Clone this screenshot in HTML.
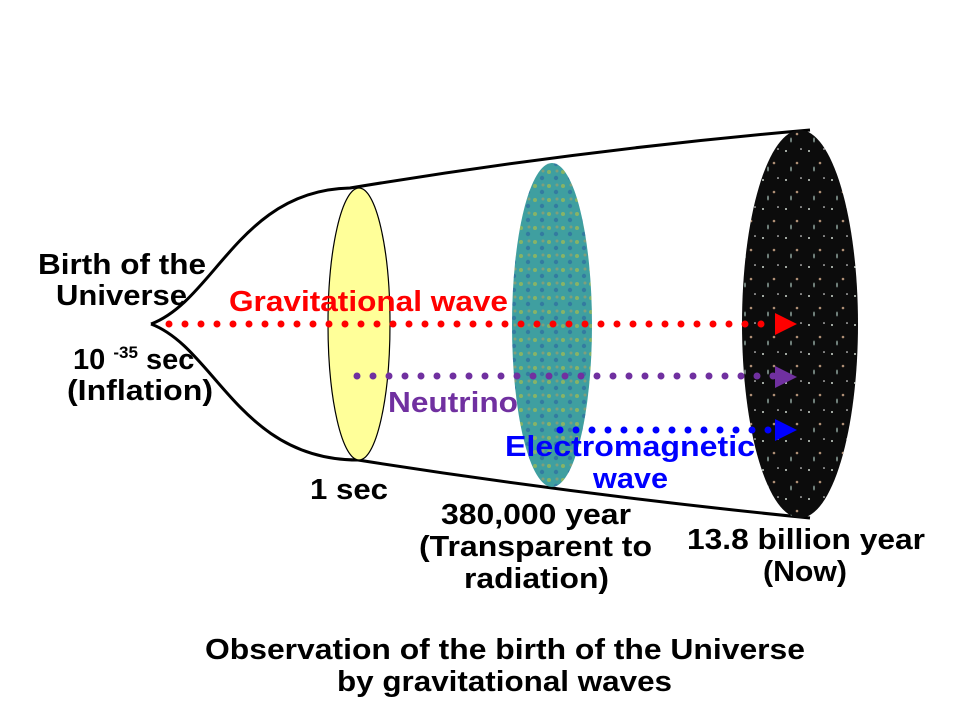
<!DOCTYPE html>
<html><head><meta charset="utf-8"><style>
body{margin:0;background:#fff}
svg text{font-family:"Liberation Sans",Arial,sans-serif;font-weight:bold}
</style></head><body>
<svg width="960" height="720" viewBox="0 0 960 720" xmlns="http://www.w3.org/2000/svg">
<defs>
<radialGradient id="cmb" cx="50%" cy="50%" r="50%">
<stop offset="0" stop-color="#3a8cb0"/><stop offset="0.6" stop-color="#4fa88a"/><stop offset="1" stop-color="#2f9fb5"/>
</radialGradient>
<pattern id="noise" width="14" height="14" patternUnits="userSpaceOnUse">
<circle cx="3" cy="4" r="2" fill="#b8c040" opacity="0.6"/>
<circle cx="10" cy="10" r="2.2" fill="#2858a0" opacity="0.5"/>
<circle cx="11" cy="3" r="1.5" fill="#e0a040" opacity="0.4"/>
</pattern>
<pattern id="stars" width="23" height="29" patternUnits="userSpaceOnUse">
<circle cx="4" cy="6" r="1" fill="#cfd8d0"/>
<circle cx="15" cy="18" r="1.3" fill="#d8b090" opacity="0.8"/>
<circle cx="19" cy="4" r="0.8" fill="#fff"/>
<ellipse cx="9" cy="24" rx="1" ry="2.5" fill="#a0b8b0" opacity="0.7"/>
</pattern>
</defs>
<path d="M151,324 C215,300 240,190 350,188 Q580,150 810,130" fill="none" stroke="#000" stroke-width="3"/>
<path d="M151,324 C215,348 240,460 358,460 Q580,495 810,518" fill="none" stroke="#000" stroke-width="3"/>
<ellipse cx="359" cy="324" rx="31" ry="136" fill="#ffff99" stroke="#000" stroke-width="1.2"/>
<ellipse cx="552" cy="325" rx="40" ry="162" fill="#3f9fa0"/>
<ellipse cx="552" cy="325" rx="40" ry="162" fill="url(#noise)"/>
<ellipse cx="800" cy="324" rx="58" ry="194" fill="#0c0c0c"/>
<ellipse cx="800" cy="324" rx="58" ry="194" fill="url(#stars)"/>
<line x1="169" y1="324" x2="775" y2="324" stroke="#ff0000" stroke-width="7" stroke-linecap="round" stroke-dasharray="0 16"/>
<polygon points="775,313 797,324 775,335" fill="#ff0000"/>
<line x1="357" y1="376" x2="775" y2="376" stroke="#7030a0" stroke-width="7" stroke-linecap="round" stroke-dasharray="0 16"/>
<polygon points="775,366 797,377 775,388" fill="#7030a0"/>
<line x1="560" y1="430" x2="775" y2="430" stroke="#0000ff" stroke-width="7" stroke-linecap="round" stroke-dasharray="0 16"/>
<polygon points="775,419 797,430 775,441" fill="#0000ff"/>
<g font-size="29" fill="#000">
<text x="38" y="274" textLength="168" lengthAdjust="spacingAndGlyphs">Birth of the</text>
<text x="56" y="305" textLength="131" lengthAdjust="spacingAndGlyphs">Universe</text>
<text x="73" y="369">10 <tspan font-size="17" dy="-11">-35</tspan><tspan dy="11"> sec</tspan></text>
<text x="67" y="400" textLength="146" lengthAdjust="spacingAndGlyphs">(Inflation)</text>
<text x="310" y="499" textLength="78" lengthAdjust="spacingAndGlyphs">1 sec</text>
<text x="441" y="524" textLength="190" lengthAdjust="spacingAndGlyphs">380,000 year</text>
<text x="419" y="556" textLength="233" lengthAdjust="spacingAndGlyphs">(Transparent to</text>
<text x="464" y="588" textLength="145" lengthAdjust="spacingAndGlyphs">radiation)</text>
<text x="687" y="549" textLength="238" lengthAdjust="spacingAndGlyphs">13.8 billion year</text>
<text x="763" y="581" textLength="84" lengthAdjust="spacingAndGlyphs">(Now)</text>
<text x="205" y="659" textLength="600" lengthAdjust="spacingAndGlyphs">Observation of the birth of the Universe</text>
<text x="337" y="691" textLength="335" lengthAdjust="spacingAndGlyphs">by gravitational waves</text>
</g>
<text x="229" y="311" font-size="29" fill="#ff0000" textLength="279" lengthAdjust="spacingAndGlyphs">Gravitational wave</text>
<text x="388" y="412" font-size="29" fill="#7030a0" textLength="130" lengthAdjust="spacingAndGlyphs">Neutrino</text>
<text x="505" y="456" font-size="29" fill="#0000ff" textLength="250" lengthAdjust="spacingAndGlyphs">Electromagnetic</text>
<text x="593" y="488" font-size="29" fill="#0000ff" textLength="75" lengthAdjust="spacingAndGlyphs">wave</text>
</svg>
</body></html>
